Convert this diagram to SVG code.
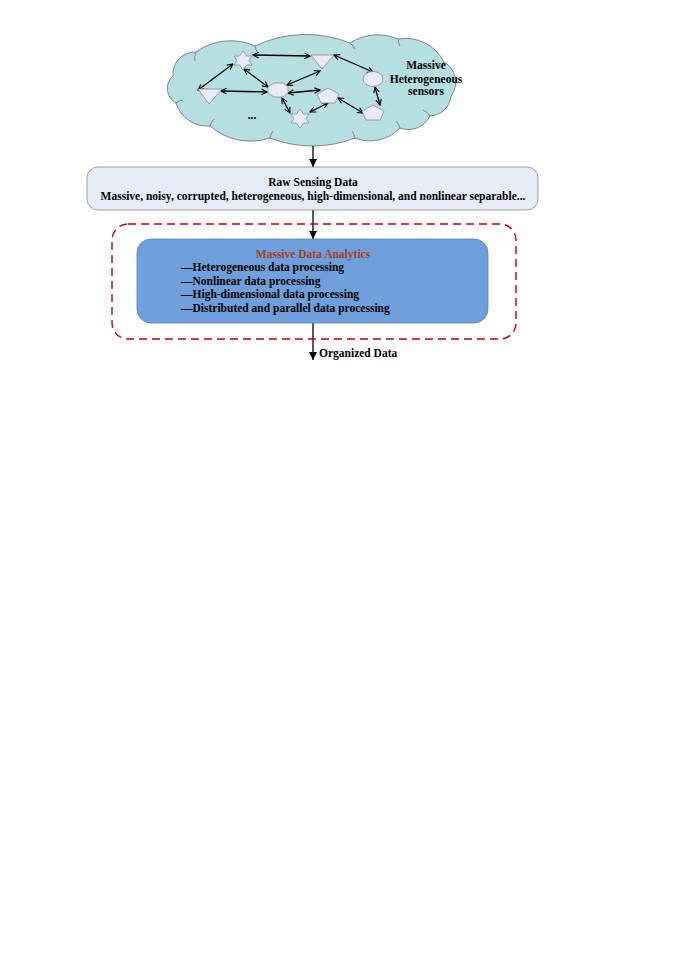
<svg xmlns="http://www.w3.org/2000/svg" width="676" height="956" viewBox="0 0 676 956">
<style>
text{font-family:"Liberation Serif","Times New Roman",serif;font-weight:bold;fill:#000}
.t11{font-size:11.5px}
.shape{fill:#e8ecf6;stroke:#8a8a8a;stroke-width:0.8}
.link{stroke:#000;stroke-width:1.3;fill:none;marker-start:url(#ov);marker-end:url(#ov)}
.main{stroke:#000;stroke-width:1.3;fill:none;marker-end:url(#fa)}
</style>
<defs>
<marker id="ov" viewBox="0 0 10 10" refX="9" refY="5" markerWidth="7" markerHeight="7" orient="auto-start-reverse" markerUnits="userSpaceOnUse">
<path d="M1,1 L9,5 L1,9" fill="none" stroke="#000" stroke-width="1.6"/>
</marker>
<marker id="fa" viewBox="0 0 10 10" refX="10" refY="5" markerWidth="8" markerHeight="10" orient="auto" markerUnits="userSpaceOnUse">
<path d="M0,0 L10,5 L0,10 Z" fill="#000"/>
</marker>
</defs>
<rect width="676" height="956" fill="#fff"/>

<g id="cloud">
<path d="M173,76 A22,22 0 0 1 196,52 A59,59 0 0 1 255,46 A118,118 0 0 1 350,43 A51,51 0 0 1 398,39 A43,43 0 0 1 444,62 A23,23 0 0 1 451,96 A22,22 0 0 1 430,116 A24,24 0 0 1 400,128 A41,41 0 0 1 355,138 A117,117 0 0 1 270,138 A62,62 0 0 1 210,126 A33,33 0 0 1 176,103 A16.5,16.5 0 0 1 173,76 Z" fill="#b7dee0" stroke="#6a6a6a" stroke-width="0.8"/>
<path d="M196,52 A14,14 0 0 0 195,61 M255,46 A18,18 0 0 0 258,53 M350,43 A20,20 0 0 1 355,49 M398,39 A18,18 0 0 0 400,46 M444,62 A16,16 0 0 1 438,69 M430,116 A14,14 0 0 0 423,110 M400,128 A16,16 0 0 0 396,121 M355,138 A18,18 0 0 0 352,131 M270,138 A18,18 0 0 1 273,131 M210,126 A16,16 0 0 1 214,119 M176,103 A12,12 0 0 1 183,100" fill="none" stroke="#6a6a6a" stroke-width="0.8"/>
<text class="t11" x="426" y="69" text-anchor="middle">Massive</text>
<text class="t11" x="426" y="83" text-anchor="middle">Heterogeneous</text>
<text class="t11" x="426" y="95" text-anchor="middle">sensors</text>
</g>

<g id="network-links">
<line class="link" x1="253" y1="55" x2="310" y2="56"/>
<line class="link" x1="233" y1="64" x2="198" y2="90"/>
<line class="link" x1="244" y1="69" x2="268" y2="87"/>
<line class="link" x1="221" y1="91" x2="267" y2="92"/>
<line class="link" x1="320" y1="71" x2="287" y2="85"/>
<line class="link" x1="334" y1="55" x2="373" y2="72"/>
<line class="link" x1="288" y1="93" x2="320" y2="90"/>
<line class="link" x1="282" y1="98" x2="290" y2="113"/>
<line class="link" x1="310" y1="112" x2="328" y2="103"/>
<line class="link" x1="338" y1="98" x2="363" y2="113"/>
<line class="link" x1="375" y1="87" x2="380" y2="105"/>
</g>

<g id="sensor-star1"><path class="shape" d="M243,51 L246.5,56 L252,56 L249,60.5 L252,65 L246.5,65 L243,70 L239.5,65 L234,65 L237,60.5 L234,56 L239.5,56 Z"/></g>
<g id="sensor-star2"><path class="shape" d="M300,109 L303.5,114 L309,114 L306,118.5 L309,123 L303.5,123 L300,128 L296.5,123 L291,123 L294,118.5 L291,114 L296.5,114 Z"/></g>
<g id="sensor-tri1"><path class="shape" d="M311,55 L334,55 L322,69 Z"/></g>
<g id="sensor-tri2"><path class="shape" d="M198,89 L222,89 L209,104 Z"/></g>
<g id="sensor-oct"><path class="shape" d="M274,83 L283,83 L288,87 L288,93 L283,97 L274,97 L268,93 L268,87 Z"/></g>
<g id="sensor-pent1"><path class="shape" d="M328,88 L339,94 L335,103 L321,103 L317,94 Z"/></g>
<g id="sensor-pent2"><path class="shape" d="M373,105 L384,111 L380,120 L366,120 L362,111 Z"/></g>
<g id="sensor-circle"><ellipse class="shape" cx="373" cy="79" rx="10" ry="7.5"/></g>
<text class="t11" x="252" y="119" text-anchor="middle">...</text>

<g id="connectors">
<line class="main" x1="313" y1="146" x2="313" y2="167"/>
<line class="main" x1="313" y1="210" x2="313" y2="239"/>
<line class="main" x1="313" y1="323" x2="313" y2="360"/>
</g>

<g id="raw-data">
<rect x="87" y="167" width="451" height="43" rx="11" fill="#e7ecf6" stroke="#8a8a8a" stroke-width="0.8"/>
<text class="t11" x="313" y="186" text-anchor="middle">Raw Sensing Data</text>
<text class="t11" x="313" y="200" text-anchor="middle">Massive, noisy, corrupted, heterogeneous, high-dimensional, and nonlinear separable...</text>
</g>

<g id="analytics-frame">
<rect x="112" y="224" width="404" height="115" rx="16" fill="none" stroke="#c00000" stroke-width="1.4" stroke-dasharray="8,5"/>
</g>

<g id="analytics">
<rect x="137" y="239" width="351" height="84" rx="14" fill="#70a0dc" stroke="#5a7fb5" stroke-width="0.8"/>
<text class="t11" x="313" y="258" text-anchor="middle" style="fill:#a0401a">Massive Data Analytics</text>
<text class="t11" x="181" y="271">—Heterogeneous data processing</text>
<text class="t11" x="181" y="285">—Nonlinear data processing</text>
<text class="t11" x="181" y="298">—High-dimensional data processing</text>
<text class="t11" x="181" y="312">—Distributed and parallel data processing</text>
</g>

<text class="t11" x="319" y="357">Organized Data</text>
</svg>
